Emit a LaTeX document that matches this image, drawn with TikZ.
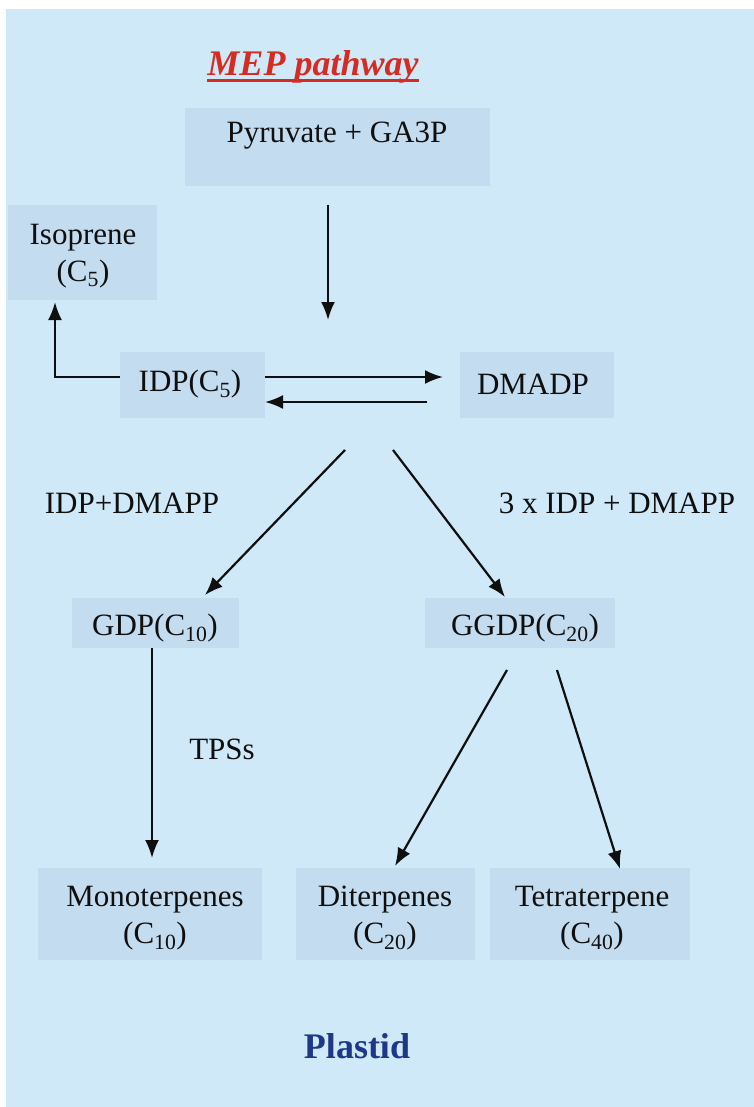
\documentclass[tikz,border=0pt]{standalone}
\usepackage{fontspec}
\setmainfont{Liberation Serif}
\usetikzlibrary{arrows.meta}
\definecolor{panelbg}{RGB}{207,233,248}
\definecolor{boxbg}{RGB}{195,220,240}
\definecolor{titlered}{RGB}{212,44,34}
\definecolor{plastidblue}{RGB}{30,55,135}
\definecolor{ink}{RGB}{15,15,15}
\tikzset{
  lbl/.style={inner sep=0pt, align=center, text=ink, font=\fontsize{31}{37}\selectfont},
  conn/.style={draw=ink, line width=2.2pt, -{Latex[length=18pt,width=14pt]}},
  boxfill/.style={fill=boxbg}
}
\begin{document}
\begin{tikzpicture}[x=1pt,y=-1pt]
\useasboundingbox (0,0) rectangle (754,1107);
\fill[white] (0,0) rectangle (754,1107);
\fill[panelbg] (6,9) rectangle (754,1107);
% node boxes
\fill[boxfill] (185,108) rectangle (490,186);
\fill[boxfill] (8,205) rectangle (157,300);
\fill[boxfill] (120,352) rectangle (265,418);
\fill[boxfill] (460,352) rectangle (614,418);
\fill[boxfill] (72,598) rectangle (239,648);
\fill[boxfill] (425,598) rectangle (615,648);
\fill[boxfill] (38,868) rectangle (262,960);
\fill[boxfill] (296,868) rectangle (475,960);
\fill[boxfill] (490,868) rectangle (690,960);
% texts
\node[inner sep=0pt, text=titlered, font=\fontsize{36}{40}\selectfont\bfseries\itshape] (title) at (313,67) {MEP pathway};
\draw[titlered, line width=2.6pt] ([yshift=-5pt]title.base west) -- ([yshift=-5pt]title.base east);
\node[lbl] (pyr) at (337,136) {Pyruvate + GA3P};
\node[lbl] (iso) at (83,256) {Isoprene\\(C\textsubscript{5})};
\node[lbl] (idp) at (190,384) {IDP(C\textsubscript{5})};
\node[lbl] (dma) at (533,384) {DMADP};
\node[lbl] (lab1) at (132,503) {IDP+DMAPP};
\node[lbl] (lab2) at (617,503) {3 x IDP + DMAPP};
\node[lbl] (gdp) at (155,628) {GDP(C\textsubscript{10})};
\node[lbl] (ggdp) at (525,628) {GGDP(C\textsubscript{20})};
\node[lbl] (tps) at (222,749) {TPSs};
\node[lbl] (mono) at (155,918) {Monoterpenes\\(C\textsubscript{10})};
\node[lbl] (di) at (385,918) {Diterpenes\\(C\textsubscript{20})};
\node[lbl] (tetra) at (592,918) {Tetraterpene\\(C\textsubscript{40})};
\node[inner sep=0pt, text=plastidblue, font=\fontsize{36}{40}\selectfont\bfseries] (plastid) at (357,1046) {Plastid};
% connector end points
\coordinate (pyrS) at (328,205);
\coordinate (idpN) at (328,320);
\coordinate (idpE1) at (265,377);
\coordinate (dmaW1) at (443,377);
\coordinate (dmaW2) at (427,402);
\coordinate (idpE2) at (265,402);
\coordinate (idpW) at (120,377);
\coordinate (isoS) at (55,302);
\coordinate (splitL) at (345,450);
\coordinate (splitR) at (393,450);
\coordinate (gdpN) at (205,595);
\coordinate (ggdpN) at (505,597);
\coordinate (gdpS) at (152,648);
\coordinate (monoN) at (152,858);
\coordinate (ggdpSL) at (507,670);
\coordinate (ggdpSR) at (557,670);
\coordinate (diN) at (395,866);
\coordinate (tetraN) at (620,869);
% connectors
\draw[conn] (pyrS) -- (idpN);
\draw[conn] (idpE1) -- (dmaW1);
\draw[conn] (dmaW2) -- (idpE2);
\draw[conn] (idpW) -| (isoS);
\draw[conn] (splitL) -- (gdpN);
\draw[conn] (splitR) -- (ggdpN);
\draw[conn] (gdpS) -- (monoN);
\draw[conn] (ggdpSL) -- (diN);
\draw[conn] (ggdpSR) -- (tetraN);
\end{tikzpicture}
\end{document}
